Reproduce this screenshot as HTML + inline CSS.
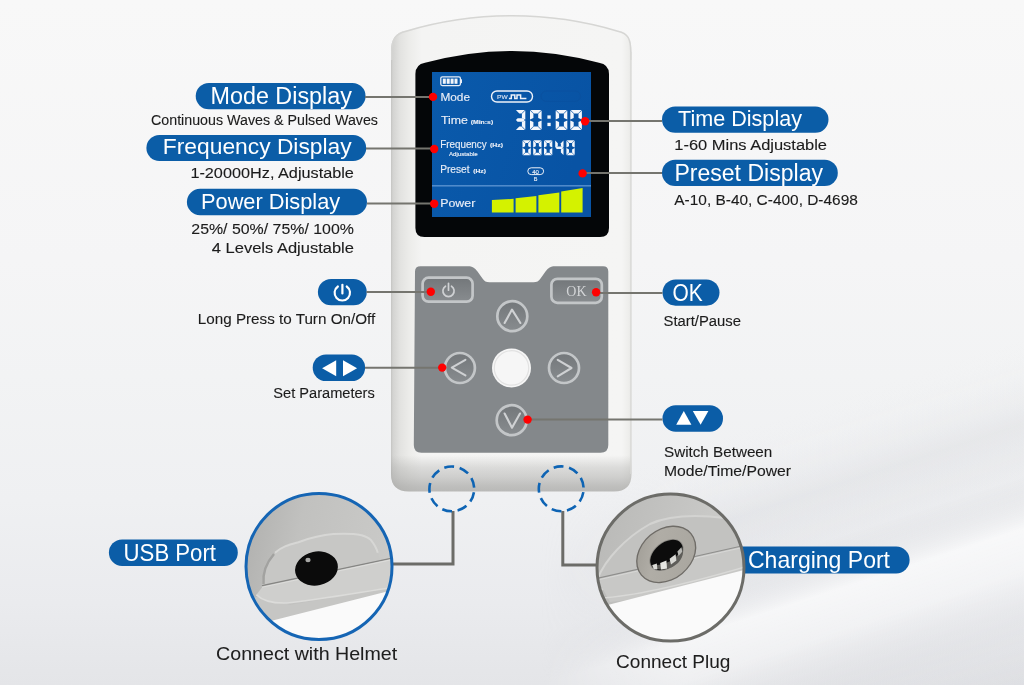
<!DOCTYPE html>
<html><head><meta charset="utf-8">
<style>
html,body{margin:0;padding:0;width:1024px;height:685px;overflow:hidden;background:#eef0f2;}
svg{display:block;will-change:transform;}
text{font-family:"Liberation Sans",sans-serif;}
</style></head>
<body>
<svg width="1024" height="685" viewBox="0 0 1024 685">
<defs>
  <linearGradient id="bg" x1="0" y1="0" x2="0" y2="1">
    <stop offset="0" stop-color="#f8f8f8"/>
    <stop offset="0.38" stop-color="#f5f5f6"/>
    <stop offset="0.55" stop-color="#f2f3f4"/>
    <stop offset="0.73" stop-color="#eff0f2"/>
    <stop offset="0.88" stop-color="#eaebee"/>
    <stop offset="1" stop-color="#e4e5e8"/>
  </linearGradient>
  <linearGradient id="streak" gradientUnits="userSpaceOnUse" x1="0" y1="0" x2="310" y2="951">
    <stop offset="0.64" stop-color="#ffffff" stop-opacity="0"/>
    <stop offset="0.72" stop-color="#c4c6cc" stop-opacity="0.22"/>
    <stop offset="0.77" stop-color="#c4c6cc" stop-opacity="0.08"/>
    <stop offset="0.82" stop-color="#ffffff" stop-opacity="0.6"/>
    <stop offset="0.86" stop-color="#ffffff" stop-opacity="0.4"/>
    <stop offset="0.93" stop-color="#c4c6cc" stop-opacity="0.1"/>
    <stop offset="1" stop-color="#c4c6cc" stop-opacity="0.25"/>
  </linearGradient>
  <linearGradient id="fadex" x1="0" y1="0" x2="1" y2="0">
    <stop offset="0" stop-color="#fff" stop-opacity="0"/>
    <stop offset="0.3" stop-color="#fff" stop-opacity="1"/>
    <stop offset="1" stop-color="#fff" stop-opacity="1"/>
  </linearGradient>
  <mask id="streakmask" maskUnits="userSpaceOnUse" x="0" y="0" width="1024" height="685"><rect x="540" y="0" width="484" height="685" fill="url(#fadex)"/></mask>
  <linearGradient id="btn" x1="0" y1="0" x2="0" y2="1">
    <stop offset="0" stop-color="#73777a"/>
    <stop offset="1" stop-color="#888c8f"/>
  </linearGradient>
  <linearGradient id="lcd" x1="0" y1="0" x2="1" y2="0.3">
    <stop offset="0" stop-color="#0a5aab"/>
    <stop offset="1" stop-color="#0853a4"/>
  </linearGradient>
  <linearGradient id="bodyv" x1="0" y1="0" x2="0" y2="1">
    <stop offset="0" stop-color="#a0a09e" stop-opacity="0"/>
    <stop offset="0.918" stop-color="#a0a09e" stop-opacity="0"/>
    <stop offset="0.943" stop-color="#a0a09e" stop-opacity="0.3"/>
    <stop offset="0.963" stop-color="#a0a09e" stop-opacity="0.45"/>
    <stop offset="0.982" stop-color="#a0a09e" stop-opacity="0.64"/>
    <stop offset="1" stop-color="#a0a09e" stop-opacity="0.75"/>
  </linearGradient>
  <linearGradient id="body" x1="0" y1="0" x2="1" y2="0">
    <stop offset="0" stop-color="#bcbcba"/>
    <stop offset="0.012" stop-color="#d3d3d1"/>
    <stop offset="0.04" stop-color="#e2e2e0"/>
    <stop offset="0.08" stop-color="#ececea"/>
    <stop offset="0.13" stop-color="#f4f4f3"/>
    <stop offset="0.95" stop-color="#f5f5f4"/>
    <stop offset="0.98" stop-color="#ededeb"/>
    <stop offset="0.995" stop-color="#dcdcda"/>
    <stop offset="1" stop-color="#cfcfcd"/>
  </linearGradient>
</defs>
<rect x="0" y="0" width="1024" height="685" fill="url(#bg)"/>
<rect x="0" y="0" width="1024" height="685" fill="url(#streak)" mask="url(#streakmask)"/>

<!-- DEVICE BODY -->
<clipPath id="bodyclip"><path id="bodyp" d="M391,52 C391,39 395,33 406,30.5 A372 372 0 0 1 618,30.5 C629,33 631.5,39 631.5,52 L631.5,474 Q631.5,491.5 614,491.5 L409,491.5 Q391,491.5 391,474 Z"/></clipPath>
<g clip-path="url(#bodyclip)">
  <rect x="390" y="10" width="244" height="485" fill="url(#body)"/>
  <rect x="390" y="10" width="244" height="485" fill="url(#bodyv)"/>
  <path d="M391,60 L391,52 C391,39 395,33 406,30.5 A372 372 0 0 1 618,30.5 C629,33 631.5,39 631.5,52 L631.5,60" fill="none" stroke="#d6d6d4" stroke-width="3"/>
  <path d="M631.5,52 L631.5,474" fill="none" stroke="#d8d8d6" stroke-width="2.5"/>
</g>
<!-- bezel -->
<path d="M415.4,74 Q415.4,64.5 425,62.8 A330 330 0 0 1 599,62.8 Q609,64.5 609,74 L609,228 Q609,237 600,237 L424.4,237 Q415.4,237 415.4,228 Z" fill="#040608"/>
<!-- lcd -->
<rect x="432" y="72" width="159" height="145" fill="url(#lcd)"/>
<!-- button panel -->
<path d="M415,271.5 Q415,266.3 420.5,266.3 L468,266.3 C472.5,266.3 474.5,267.8 477.5,271.5 L482.5,278.5 C484.5,281.3 486,282.3 489.5,282.3 L533.5,282.3 C537,282.3 538.5,281.3 540.5,278.5 L545.5,271.5 C548.5,267.8 550.5,266.3 555,266.3 L603,266.3 Q608.3,266.3 608.3,271.5 L608.3,445 Q608.3,452.8 600.5,452.8 L421.5,452.8 Q413.8,452.8 413.8,445 Z" fill="#84888b"/>

<!-- lcd content -->
<g fill="none" stroke="#e8eef8" stroke-width="1.3">
  <rect x="440.8" y="76.8" width="19.6" height="8.8" rx="1.5"/>
</g>
<rect x="460.4" y="79.3" width="1.6" height="3.8" fill="#e8eef8"/>
<g fill="#f2f5fa">
  <rect x="442.8" y="78.6" width="3" height="5.2"/><rect x="446.7" y="78.6" width="3" height="5.2"/><rect x="450.6" y="78.6" width="3" height="5.2"/><rect x="454.5" y="78.6" width="3" height="5.2"/>
</g>
<g fill="#e9eef7" stroke="#e9eef7" stroke-width="0.15">
  <text x="440.4" y="101" font-size="11.8" textLength="29.6" lengthAdjust="spacingAndGlyphs">Mode</text>
  <text x="441" y="124.3" font-size="11.8" textLength="27" lengthAdjust="spacingAndGlyphs">Time</text>
  <text x="470.7" y="124.3" font-size="6" font-weight="bold" textLength="22.5" lengthAdjust="spacingAndGlyphs">(Min:s)</text>
  <text x="440.2" y="147.6" font-size="10.8" textLength="46.5" lengthAdjust="spacingAndGlyphs">Frequency</text>
  <text x="490" y="147" font-size="5.8" font-weight="bold" textLength="13" lengthAdjust="spacingAndGlyphs">(Hz)</text>
  <text x="448.9" y="155.6" font-size="6" textLength="28.8" lengthAdjust="spacingAndGlyphs">Adjustable</text>
  <text x="440.2" y="173.2" font-size="11" textLength="29.4" lengthAdjust="spacingAndGlyphs">Preset</text>
  <text x="473.3" y="172.8" font-size="5.8" font-weight="bold" textLength="12.6" lengthAdjust="spacingAndGlyphs">(Hz)</text>
  <text x="440.2" y="207" font-size="11.5" textLength="35.1" lengthAdjust="spacingAndGlyphs">Power</text>
  <text x="535.6" y="181.4" font-size="5.5" text-anchor="middle">B</text>
  <text x="535.6" y="173.8" font-size="6" text-anchor="middle">40</text>
  <text x="497" y="98.9" font-size="6.2" textLength="10.6" lengthAdjust="spacingAndGlyphs" fill="#c9d8ee">PW</text>
</g>
<g fill="none" stroke="#eef2f9" stroke-width="1.4">
  <rect x="491.5" y="91" width="41" height="11" rx="5.5"/>
  <rect x="527.8" y="167.8" width="15.8" height="6.8" rx="3.4" stroke-width="1"/>
  <polyline points="508.9,98.4 511.3,98.4 511.3,94.9 514.8,94.9 514.8,98.4 517,98.4 517,94.9 520.6,94.9 520.6,98.4 526.4,98.4" stroke-width="1.5"/>
</g>
<rect x="541" y="91" width="39.5" height="10.4" rx="5.2" fill="none" stroke="#0a51a0" stroke-width="1"/>
<rect x="432" y="185.3" width="159" height="1.1" fill="#6ea2db"/>
<g fill="#d4f200">
  <polygon points="491.9,200.1 513.6,198.8 513.6,212.4 491.9,212.4"/>
  <polygon points="515.6,198.2 536.4,196 536.4,212.4 515.6,212.4"/>
  <polygon points="538.4,195.2 559.3,192.5 559.3,212.4 538.4,212.4"/>
  <polygon points="561.2,191.6 582.6,187.9 582.6,212.4 561.2,212.4"/>
</g>
<g fill="#f4f7fc">
<polygon points="515.90,110.00 524.90,110.00 521.50,113.40 519.30,113.40"/>
<polygon points="525.30,110.40 525.30,119.60 521.90,117.90 521.90,113.80"/>
<polygon points="515.90,120.00 517.60,118.30 523.20,118.30 524.90,120.00 523.20,121.70 517.60,121.70"/>
<polygon points="525.30,120.40 525.30,129.60 521.90,126.20 521.90,122.10"/>
<polygon points="519.30,126.60 521.50,126.60 524.90,130.00 515.90,130.00"/>
<polygon points="530.40,110.00 541.20,110.00 537.80,113.40 533.80,113.40"/>
<polygon points="541.60,110.40 541.60,119.60 538.20,117.90 538.20,113.80"/>
<polygon points="541.60,120.40 541.60,129.60 538.20,126.20 538.20,122.10"/>
<polygon points="533.80,126.60 537.80,126.60 541.20,130.00 530.40,130.00"/>
<polygon points="530.00,120.40 533.40,122.10 533.40,126.20 530.00,129.60"/>
<polygon points="530.00,110.40 533.40,113.80 533.40,117.90 530.00,119.60"/>
<polygon points="556.10,110.00 566.90,110.00 563.50,113.40 559.50,113.40"/>
<polygon points="567.30,110.40 567.30,119.60 563.90,117.90 563.90,113.80"/>
<polygon points="567.30,120.40 567.30,129.60 563.90,126.20 563.90,122.10"/>
<polygon points="559.50,126.60 563.50,126.60 566.90,130.00 556.10,130.00"/>
<polygon points="555.70,120.40 559.10,122.10 559.10,126.20 555.70,129.60"/>
<polygon points="555.70,110.40 559.10,113.80 559.10,117.90 555.70,119.60"/>
<polygon points="570.70,110.00 581.50,110.00 578.10,113.40 574.10,113.40"/>
<polygon points="581.90,110.40 581.90,119.60 578.50,117.90 578.50,113.80"/>
<polygon points="581.90,120.40 581.90,129.60 578.50,126.20 578.50,122.10"/>
<polygon points="574.10,126.60 578.10,126.60 581.50,130.00 570.70,130.00"/>
<polygon points="570.30,120.40 573.70,122.10 573.70,126.20 570.30,129.60"/>
<polygon points="570.30,110.40 573.70,113.80 573.70,117.90 570.30,119.60"/>
<rect x="547.4" y="115.4" width="3.3" height="3.3"/><rect x="547.4" y="122.8" width="3.3" height="3.3"/>
<polygon points="522.80,140.30 530.50,140.30 527.90,142.90 525.40,142.90"/>
<polygon points="530.80,140.60 530.80,147.50 528.20,146.20 528.20,143.20"/>
<polygon points="530.80,148.10 530.80,155.00 528.20,152.40 528.20,149.40"/>
<polygon points="525.40,152.70 527.90,152.70 530.50,155.30 522.80,155.30"/>
<polygon points="522.50,148.10 525.10,149.40 525.10,152.40 522.50,155.00"/>
<polygon points="522.50,140.60 525.10,143.20 525.10,146.20 522.50,147.50"/>
<polygon points="533.50,140.30 541.20,140.30 538.60,142.90 536.10,142.90"/>
<polygon points="541.50,140.60 541.50,147.50 538.90,146.20 538.90,143.20"/>
<polygon points="541.50,148.10 541.50,155.00 538.90,152.40 538.90,149.40"/>
<polygon points="536.10,152.70 538.60,152.70 541.20,155.30 533.50,155.30"/>
<polygon points="533.20,148.10 535.80,149.40 535.80,152.40 533.20,155.00"/>
<polygon points="533.20,140.60 535.80,143.20 535.80,146.20 533.20,147.50"/>
<polygon points="544.30,140.30 552.00,140.30 549.40,142.90 546.90,142.90"/>
<polygon points="552.30,140.60 552.30,147.50 549.70,146.20 549.70,143.20"/>
<polygon points="552.30,148.10 552.30,155.00 549.70,152.40 549.70,149.40"/>
<polygon points="546.90,152.70 549.40,152.70 552.00,155.30 544.30,155.30"/>
<polygon points="544.00,148.10 546.60,149.40 546.60,152.40 544.00,155.00"/>
<polygon points="544.00,140.60 546.60,143.20 546.60,146.20 544.00,147.50"/>
<polygon points="555.20,140.60 557.80,143.20 557.80,146.20 555.20,147.50"/>
<polygon points="555.50,147.80 556.80,146.50 561.90,146.50 563.20,147.80 561.90,149.10 556.80,149.10"/>
<polygon points="563.50,140.60 563.50,147.50 560.90,146.20 560.90,143.20"/>
<polygon points="563.50,148.10 563.50,155.00 560.90,152.40 560.90,149.40"/>
<polygon points="566.70,140.30 574.40,140.30 571.80,142.90 569.30,142.90"/>
<polygon points="574.70,140.60 574.70,147.50 572.10,146.20 572.10,143.20"/>
<polygon points="574.70,148.10 574.70,155.00 572.10,152.40 572.10,149.40"/>
<polygon points="569.30,152.70 571.80,152.70 574.40,155.30 566.70,155.30"/>
<polygon points="566.40,148.10 569.00,149.40 569.00,152.40 566.40,155.00"/>
<polygon points="566.40,140.60 569.00,143.20 569.00,146.20 566.40,147.50"/>
</g>
<!-- buttons -->
<g fill="url(#btn)" stroke="#c3c6c8" stroke-width="2.7">
  <rect x="422.6" y="277.7" width="50" height="24" rx="6"/>
  <rect x="551.4" y="278.8" width="50.4" height="24" rx="6"/>
  <circle cx="512.3" cy="316.2" r="15"/>
  <circle cx="459.9" cy="368" r="15"/>
  <circle cx="564" cy="368" r="15"/>
  <circle cx="511.7" cy="420.2" r="15"/>
</g>
<circle cx="511.5" cy="367.9" r="19.5" fill="#f6f6f6"/>
<circle cx="511.5" cy="367.9" r="17.2" fill="none" stroke="#e2e2e2" stroke-width="1.2"/>
<g fill="none" stroke="#cfd1d3" stroke-width="2.1" stroke-linecap="round" stroke-linejoin="round">
  <polyline points="504.6,323 512,309.6 520.4,323"/>
  <polyline points="465.4,359.8 451.8,367.6 465.4,375.4"/>
  <polyline points="557.7,359.8 571.5,368 557.7,376.3"/>
  <polyline points="504.6,413.5 512,427.7 520,413.5"/>
  <path d="M445.5,286.2 A5.6 5.6 0 1 0 451.5,286.2" stroke-width="1.7"/>
  <line x1="448.5" y1="283.4" x2="448.5" y2="290.2" stroke-width="1.7"/>
</g>
<text x="576.4" y="295.6" style="font-family:'Liberation Serif',serif" font-size="14" fill="#d3d5d7" text-anchor="middle">OK</text>
<!-- labels -->
<g fill="#0b5da7">
  <rect x="195.7" y="82.9" width="169.9" height="26.4" rx="13.2"/>
  <rect x="146.4" y="135" width="219.8" height="26.1" rx="13"/>
  <rect x="186.9" y="188.8" width="180.1" height="26.4" rx="13.2"/>
  <rect x="662" y="106.4" width="166.5" height="26.4" rx="13.2"/>
  <rect x="662" y="159.7" width="175.8" height="26.3" rx="13.1"/>
  <rect x="317.9" y="278.9" width="48.9" height="26.4" rx="13.2"/>
  <rect x="312.7" y="354.4" width="52.4" height="26.7" rx="13.3"/>
  <rect x="662.5" y="279.4" width="57" height="26.3" rx="13.1"/>
  <rect x="662.5" y="405.2" width="60.5" height="26.5" rx="13.2"/>
  <rect x="108.9" y="539.4" width="128.9" height="26.5" rx="13.2"/>
  <rect x="700" y="546.5" width="209.6" height="26.9" rx="13.4"/>
</g>
<g fill="#ffffff" font-size="24">
  <text x="210.5" y="103.9" font-size="23.5" textLength="141.4" lengthAdjust="spacingAndGlyphs">Mode Display</text>
  <text x="162.8" y="154" font-size="22.8" textLength="188.9" lengthAdjust="spacingAndGlyphs">Frequency Display</text>
  <text x="201" y="209" font-size="22.8" textLength="139.2" lengthAdjust="spacingAndGlyphs">Power Display</text>
  <text x="678" y="125.8" font-size="22.5" textLength="124" lengthAdjust="spacingAndGlyphs">Time Display</text>
  <text x="674.4" y="180.5" font-size="23.5" textLength="148.6" lengthAdjust="spacingAndGlyphs">Preset Display</text>
  <text x="672.4" y="301.3" textLength="30.2" lengthAdjust="spacingAndGlyphs">OK</text>
  <text x="123.6" y="560.5" textLength="92.4" lengthAdjust="spacingAndGlyphs">USB Port</text>
  <text x="748" y="568" textLength="142" lengthAdjust="spacingAndGlyphs">Charging Port</text>
</g>
<g fill="#1c1c1c" stroke="#1c1c1c" stroke-width="0.12" font-size="15.5">
  <text x="151" y="124.8" textLength="227" lengthAdjust="spacingAndGlyphs">Continuous Waves &amp; Pulsed Waves</text>
  <text x="190.4" y="178.3" textLength="163.5" lengthAdjust="spacingAndGlyphs">1-20000Hz, Adjustable</text>
  <text x="191.3" y="233.6" textLength="162.6" lengthAdjust="spacingAndGlyphs">25%/ 50%/ 75%/ 100%</text>
  <text x="211.8" y="253" textLength="142.1" lengthAdjust="spacingAndGlyphs">4 Levels Adjustable</text>
  <text x="674.3" y="149.8" textLength="152.7" lengthAdjust="spacingAndGlyphs">1-60 Mins Adjustable</text>
  <text x="674.3" y="204.5" textLength="183.5" lengthAdjust="spacingAndGlyphs">A-10, B-40, C-400, D-4698</text>
  <text x="197.8" y="324.4" textLength="177.4" lengthAdjust="spacingAndGlyphs">Long Press to Turn On/Off</text>
  <text x="273.3" y="398.3" textLength="101.5" lengthAdjust="spacingAndGlyphs">Set Parameters</text>
  <text x="663.5" y="325.7" textLength="77.5" lengthAdjust="spacingAndGlyphs">Start/Pause</text>
  <text x="664" y="456.5" textLength="108.3" lengthAdjust="spacingAndGlyphs">Switch Between</text>
  <text x="664" y="476" textLength="127" lengthAdjust="spacingAndGlyphs">Mode/Time/Power</text>
</g>
<g fill="#1e1e1e" stroke="#1e1e1e" stroke-width="0.05" font-size="19">
  <text x="216.1" y="659.7" textLength="181.1" lengthAdjust="spacingAndGlyphs">Connect with Helmet</text>
  <text x="616.1" y="667.8" textLength="114.3" lengthAdjust="spacingAndGlyphs">Connect Plug</text>
</g>

<!-- pill icons -->
<g fill="#ffffff">
  <polygon points="322.1,368.25 336.2,360.2 336.2,376.3"/>
  <polygon points="343,360.2 343,376.3 357.1,368.25"/>
  <polygon points="676.2,424.7 691.4,424.7 683.8,411"/>
  <polygon points="692.8,411 708.4,411 700.6,424.7"/>
  <rect x="341.3" y="283.8" width="2.2" height="10.7" rx="1"/>
</g>
<path d="M337.9,286.5 A7.7 7.7 0 1 0 346.7,286.5" fill="none" stroke="#ffffff" stroke-width="2.15" stroke-linecap="round"/>
<!-- leader lines -->
<g stroke="#75756f" stroke-width="2" fill="none">
  <line x1="365" y1="96.9" x2="433" y2="96.9"/>
  <line x1="366" y1="148.5" x2="434" y2="148.5"/>
  <line x1="367" y1="203.5" x2="434" y2="203.5"/>
  <line x1="585" y1="121.1" x2="662" y2="121.1"/>
  <line x1="582" y1="172.9" x2="662" y2="172.9"/>
  <line x1="366.5" y1="292" x2="431" y2="292"/>
  <line x1="365" y1="367.8" x2="442" y2="367.8"/>
  <line x1="596" y1="292.9" x2="662.5" y2="292.9"/>
  <line x1="527.6" y1="419.5" x2="662.5" y2="419.5"/>
</g>
<g fill="#ff0000">
  <circle cx="433" cy="96.9" r="4.2"/>
  <circle cx="434.2" cy="149" r="4.2"/>
  <circle cx="434.2" cy="203.7" r="4.2"/>
  <circle cx="585.1" cy="121.2" r="4.2"/>
  <circle cx="582.6" cy="173.4" r="4.2"/>
  <circle cx="430.8" cy="291.8" r="4.2"/>
  <circle cx="596.1" cy="292.3" r="4.2"/>
  <circle cx="442.2" cy="367.6" r="4.2"/>
  <circle cx="527.6" cy="419.6" r="4.2"/>
</g>

<!-- port callouts -->
<g stroke="#6c6c68" stroke-width="3" fill="none">
  <polyline points="453,511 453,564 392,564"/>
  <polyline points="562.8,511 562.8,565 596,565"/>
</g>
<g stroke="#0e64b4" stroke-width="2.6" fill="none" stroke-dasharray="10 5.635" stroke-dashoffset="12.2">
  <circle cx="451.8" cy="488.9" r="22.4"/>
  <circle cx="561.2" cy="488.8" r="22.4"/>
</g>
<defs>
  <clipPath id="cu"><circle cx="319" cy="566.5" r="73"/></clipPath>
  <clipPath id="cc"><circle cx="670.5" cy="567.6" r="73.5"/></clipPath>
  <linearGradient id="gu" x1="0" y1="0.3" x2="1" y2="0.5">
    <stop offset="0" stop-color="#b0b0ae"/>
    <stop offset="0.35" stop-color="#c1c1bf"/>
    <stop offset="1" stop-color="#cbcbc9"/>
  </linearGradient>
  <linearGradient id="gc" x1="0" y1="0" x2="1" y2="0.3">
    <stop offset="0" stop-color="#b7b7b5"/>
    <stop offset="1" stop-color="#cfcfcd"/>
  </linearGradient>
  <linearGradient id="metal" x1="0" y1="0" x2="1" y2="1">
    <stop offset="0" stop-color="#9c9992"/>
    <stop offset="0.35" stop-color="#b0ada6"/>
    <stop offset="1" stop-color="#a8a59e"/>
  </linearGradient>
</defs>
<g clip-path="url(#cu)">
  <rect x="240" y="488" width="160" height="160" fill="url(#gu)"/>
  <polygon points="240,600 262,596 290,605 395,587 400,650 240,650" fill="#c6c6c4"/>
  <path d="M262.2,585.4 C262,572 268,560 275,552.7 C283,546 290,544.5 298.4,542.2 C310,538 322,535 333.4,534.1 C345,533.5 355,534 361.5,535.2 C366,536.5 369,538 370.8,539.9 C374,544 376.5,548 377.8,552.7 L380.6,560.5 Z" fill="#c7c7c5"/>
  <path d="M275,552.7 C283,546 290,544.5 298.4,542.2 C310,538 322,535 333.4,534.1 C345,533.5 355,534 361.5,535.2 C366,536.5 369,538 370.8,539.9 C374,544 376.5,548 377.8,552.7" fill="none" stroke="#d7d7d5" stroke-width="2"/>
  <path d="M263.5,584 C262.5,572 267,562 274,554" fill="none" stroke="#a2a2a0" stroke-width="2.5"/>
  <path d="M262.2,587.2 L392,559.7 L395,559 L395,587 L389.5,587.8 C350,594 310,601 286.7,603 C272,603.5 262,600 256.4,594.8 Z" fill="#cfcfcd"/>
  <path d="M256.4,594.8 C262,600 272,603.5 286.7,603 C310,601 350,594 395,587" fill="none" stroke="#dcdcda" stroke-width="1.6"/>
  <line x1="262" y1="585.6" x2="394" y2="557.6" stroke="#858583" stroke-width="1.2"/>
  <line x1="262" y1="587.2" x2="394" y2="559.2" stroke="#dededc" stroke-width="1"/>
  <polygon points="240,626 272.7,620.5 395,589.5 400,650 240,650" fill="#fafafa"/>
  <ellipse cx="316.5" cy="568.5" rx="21.6" ry="16.9" transform="rotate(-12 316.5 568.5)" fill="#0b0b0b"/>
  <ellipse cx="308" cy="560" rx="2.6" ry="2.2" fill="#a8a8a6"/>
</g>
<circle cx="319" cy="566.5" r="73" fill="none" stroke="#1565b4" stroke-width="3"/>
<g clip-path="url(#cc)">
  <rect x="590" y="490" width="160" height="160" fill="url(#gc)"/>
  <path d="M598,578 C605,560 625,538 650,524 C670,515 700,515 725,518 L750,520 L750,560 L598,590 Z" fill="#c2c2c0" stroke="#d3d3d1" stroke-width="2"/>
  <path d="M598,580 L750,546 L750,575 C700,588 650,598 610,602 Z" fill="#c8c8c6"/>
  <line x1="596" y1="578.6" x2="748" y2="544.6" stroke="#8e8e8c" stroke-width="1.2"/>
  <line x1="596" y1="580.3" x2="748" y2="546.3" stroke="#d8d8d6" stroke-width="1"/>
  <path d="M600,598 C640,596 700,580 748,566" fill="none" stroke="#d9d9d7" stroke-width="1.5"/>
  <polygon points="590,610 608.7,604.8 746,569.5 750,650 590,650" fill="#fafafa"/>
  <ellipse cx="666.2" cy="554.4" rx="33" ry="25.5" transform="rotate(-40 666.2 554.4)" fill="#6f6c67"/>
  <ellipse cx="666.2" cy="554.4" rx="31.6" ry="24.2" transform="rotate(-40 666.2 554.4)" fill="url(#metal)"/>
  <ellipse cx="666.5" cy="555" rx="19.5" ry="13" transform="rotate(-40 666.5 555)" fill="#8b8984"/>
  <ellipse cx="666.5" cy="555" rx="18.6" ry="12.2" transform="rotate(-40 666.5 555)" fill="#0c0c0c"/>
  <path d="M651,565 C655,571 668,572 678,563 C683,558 684,552 682,547 C679,556 670,566 651,565 Z" fill="#5e5d59"/>
  <polygon points="652.4,565 656.8,563.6 657.4,569.4 653.6,569" fill="#dcdcd8"/>
  <polygon points="660.2,563 666.4,560.6 667,568.6 661,569.6" fill="#e6e6e2"/>
  <polygon points="669.6,558.8 675.6,554.2 676.4,560.6 671,564.6" fill="#d8d8d4"/>
  <polygon points="677.4,551.6 681.4,547.2 682.2,551.8 678.6,556" fill="#b8b8b4"/>
</g>
<circle cx="670.5" cy="567.6" r="73.5" fill="none" stroke="#6c6c68" stroke-width="3"/>
</svg>
</body></html>
